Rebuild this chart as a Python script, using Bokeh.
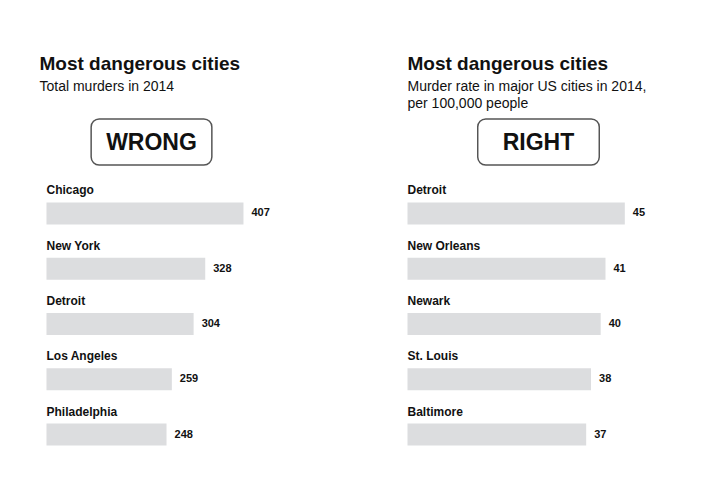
from bokeh.plotting import figure
from bokeh.models import Range1d, Label, ColumnDataSource
from bokeh.layouts import row
from bokeh.embed import file_html
from bokeh.resources import INLINE
from bokeh.core.properties import value

# ---- data ----
left_cities = ["Chicago", "New York", "Detroit", "Los Angeles", "Philadelphia"]
left_values = [407, 328, 304, 259, 248]
right_cities = ["Detroit", "New Orleans", "Newark", "St. Louis", "Baltimore"]
right_values = [45, 41, 40, 38, 37]

left_title = "Most dangerous cities"
left_subtitle = ["Total murders in 2014"]
left_verdict = "WRONG"
right_title = "Most dangerous cities"
right_subtitle = ["Murder rate in major US cities in 2014,", "per 100,000 people"]
right_verdict = "RIGHT"

# ---- style ----
FONT = "Liberation Sans"
BAR = "#dcdddf"
INK = "#111111"
W, H = 359, 486


def panel(cities, values, x_range, title, sub_lines, verdict, text_x, box_cx, pad_x):
    p = figure(width=W, height=H, output_backend="svg", toolbar_location=None,
               x_range=x_range, y_range=Range1d(4.941, -3.855),
               x_axis_location=None, y_axis_location=None, min_border=0,
               min_border_left=0, min_border_right=0, min_border_top=0, min_border_bottom=0)
    p.xgrid.visible = False
    p.ygrid.visible = False
    p.outline_line_color = None
    p.background_fill_color = "white"
    p.border_fill_color = "white"

    src = ColumnDataSource(dict(
        y=list(range(len(cities))),
        value=values,
        city=cities,
        label=[str(v) for v in values],
    ))
    p.hbar(y="y", left=0, right="value", height=0.398, source=src,
           fill_color=BAR, line_color=None)
    p.text(x=0, y="y", text="city", source=src, y_offset=-23,
           text_font=value(FONT), text_font_style="bold", text_font_size="12px",
           text_align="left", text_baseline="alphabetic", text_color=INK)
    p.text(x="value", y="y", text="label", source=src, x_offset=8, y_offset=-1,
           text_font=value(FONT), text_font_style="bold", text_font_size="11px",
           text_align="left", text_baseline="middle", text_color=INK)

    p.add_layout(Label(x=text_x, y=H - 63, x_units="screen", y_units="screen",
                       text=title, text_font=FONT, text_font_style="bold",
                       text_font_size="19px", text_color=INK,
                       text_baseline="alphabetic", text_align="left"))
    for i, line in enumerate(sub_lines):
        p.add_layout(Label(x=text_x, y=H - 85 - 17 * i, x_units="screen", y_units="screen",
                           text=line, text_font=FONT, text_font_size="14px",
                           text_color=INK, text_baseline="alphabetic", text_align="left"))
    p.add_layout(Label(x=box_cx, y=H - 141.5, x_units="screen", y_units="screen",
                       text=verdict, text_font=FONT, text_font_style="bold",
                       text_font_size="23px", text_color=INK,
                       text_baseline="middle", text_align="center",
                       border_line_color="#555555", border_line_width=1.5,
                       background_fill_color="white",
                       padding=dict(x=pad_x, y=10), border_radius=8))
    return p


left = panel(left_cities, left_values, Range1d(-95.0, 646.7),
             left_title, left_subtitle, left_verdict, 39, 151, 15)
right = panel(right_cities, right_values, Range1d(-9.94, 64.4),
              right_title, right_subtitle, right_verdict, 48, 179, 25)

layout = row(left, right)
open("out.html", "w").write(file_html(layout, INLINE))
